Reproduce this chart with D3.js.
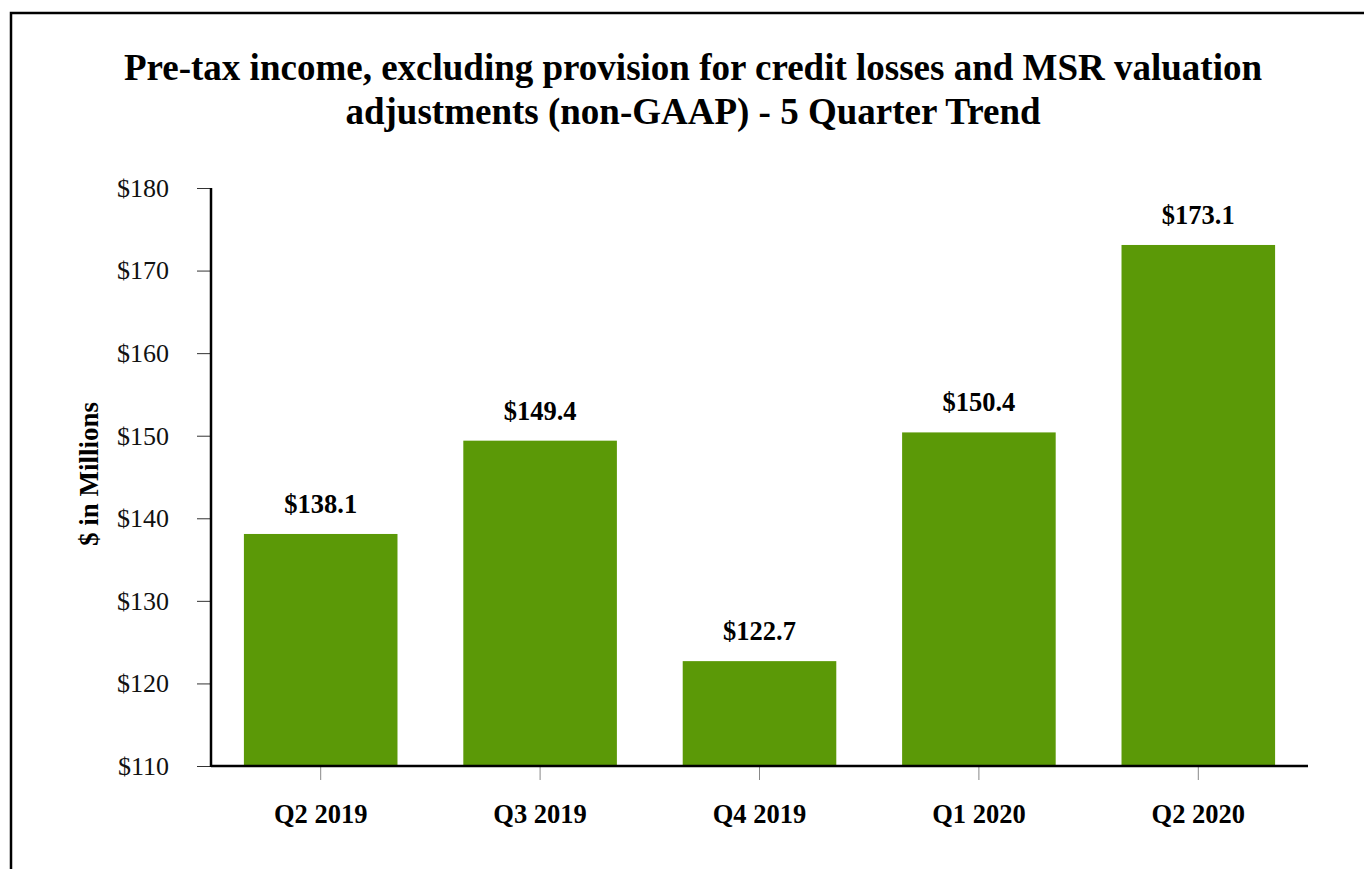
<!DOCTYPE html>
<html><head><meta charset="utf-8">
<script src="https://cdn.jsdelivr.net/npm/d3@7"></script>
<style>body{margin:0;background:#fff}svg{display:block}text{font-family:"Liberation Serif","Times New Roman",serif}</style>
</head><body>
<svg id="c" width="1364" height="869"></svg>
<script>
const categories = ["Q2 2019","Q3 2019","Q4 2019","Q1 2020","Q2 2020"];
const values = [138.1, 149.4, 122.7, 150.4, 173.1];
const yTicks = [110,120,130,140,150,160,170,180];
const titleLines = ["Pre-tax income, excluding provision for credit losses and MSR valuation","adjustments (non-GAAP) - 5 Quarter Trend"];
const yTitle = "$ in Millions";

const svg = d3.select("#c");
// frame
svg.append("rect").attr("x",11).attr("y",13).attr("width",1400).attr("height",900)
  .attr("fill","none").attr("stroke","#000").attr("stroke-width",2.5);

const L=211,R=1308,T=188,B=766;
const x = d3.scaleBand().domain(categories).range([L,R]).paddingInner(0.3).paddingOuter(0.15);
const y = d3.scaleLinear().domain([110,180]).range([B,T]);

svg.selectAll(".title").data(titleLines).enter().append("text")
  .attr("x",693).attr("y",(d,i)=>80+i*44).attr("text-anchor","middle")
  .attr("font-size",37).attr("font-weight","bold").text(d=>d);

svg.append("g").selectAll("rect").data(values).enter().append("rect")
  .attr("x",(d,i)=>x(categories[i])).attr("width",x.bandwidth())
  .attr("y",d=>y(d)).attr("height",d=>B-y(d)).attr("fill","#5b9907");

svg.append("g").selectAll("text").data(values).enter().append("text")
  .attr("x",(d,i)=>x(categories[i])+x.bandwidth()/2).attr("y",d=>y(d)-21)
  .attr("text-anchor","middle").attr("font-size",26.5).attr("font-weight","bold")
  .text(d=>"$"+d.toFixed(1));

// y axis
const ya = svg.append("g").attr("transform",`translate(${L},0)`)
  .call(d3.axisLeft(y).tickValues(yTicks).tickSize(14).tickPadding(28).tickFormat(d=>"$"+d));
ya.select(".domain").remove();
ya.selectAll(".tick line").attr("stroke","#333").attr("stroke-width",1);
ya.selectAll(".tick text").attr("font-size",26).attr("fill","#111").attr("font-family","Liberation Serif");

// x axis
const xa = svg.append("g").attr("transform",`translate(0,${B})`)
  .call(d3.axisBottom(x).tickSize(14));
xa.select(".domain").remove();
xa.selectAll(".tick line").attr("stroke","#888").attr("stroke-width",1);
xa.selectAll(".tick text").attr("y",57).attr("dy",0).attr("font-size",26.5).attr("font-weight","bold").attr("fill","#000").attr("font-family","Liberation Serif");

svg.append("line").attr("x1",L).attr("x2",L).attr("y1",T).attr("y2",B+1).attr("stroke","#000").attr("stroke-width",2.5);
svg.append("line").attr("x1",L).attr("x2",R).attr("y1",B).attr("y2",B).attr("stroke","#000").attr("stroke-width",2.5);

svg.append("text").attr("transform",`translate(98,474) rotate(-90)`).attr("text-anchor","middle")
  .attr("font-size",27).attr("font-weight","bold").text(yTitle);
</script>
</body></html>
